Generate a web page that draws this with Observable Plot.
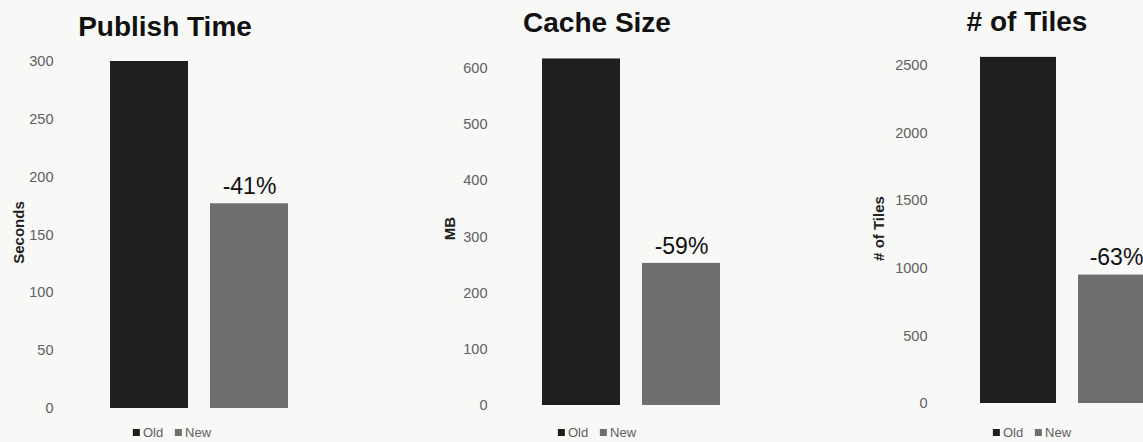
<!DOCTYPE html>
<html>
<head>
<meta charset="utf-8">
<script src="https://cdn.jsdelivr.net/npm/d3@7"></script>
<script src="https://cdn.jsdelivr.net/npm/@observablehq/plot@0.6"></script>
<style>
  html, body { margin: 0; padding: 0; background: #f8f8f7; overflow: hidden; }
  #wrap { position: relative; width: 1143px; height: 442px; overflow: hidden; font-family: "Liberation Sans", Arial, sans-serif; }
  .panel { position: absolute; top: 0; height: 442px; }
  .title { position: absolute; font-weight: bold; font-size: 28px; line-height: 28px; color: #111; white-space: nowrap; transform: translateX(-50%); }
  .legend { position: absolute; top: 425px; font-size: 13px; line-height: 16px; color: #606060; white-space: nowrap; transform: translateX(-50%); }
  .sw { display: inline-block; width: 7px; height: 7px; margin-right: 3px; vertical-align: 1px; }
  svg { overflow: visible; }
</style>
</head>
<body>
<div id="wrap"></div>
<script>
const categories = ["Old", "New"];
const publishTime = [300, 177];
const cacheSize = [617, 253];
const tileCount = [2560, 950];
const changeLabels = ["-41%", "-59%", "-63%"];
const titles = ["Publish Time", "Cache Size", "# of Tiles"];
const yLabels = ["Seconds", "MB", "# of Tiles"];
const yTicks = [
  [0, 50, 100, 150, 200, 250, 300],
  [0, 100, 200, 300, 400, 500, 600],
  [0, 500, 1000, 1500, 2000, 2500]
];
const colors = ["#1e201f", "#6c6f6d"];

const panels = [
  {left: 0, width: 380, values: publishTime, yDomain: [0, 300], yRange: [408, 61], xRange: [110, 288], marginLeft: 60, marginTop: 22, labelX: 13, titleX: 165, titleY: 13, legendX: 172},
  {left: 380, width: 380, values: cacheSize, yDomain: [0, 600], yRange: [405, 68], xRange: [162, 340], marginLeft: 114, marginTop: 14, labelX: 64, titleX: 217, titleY: 9, legendX: 217},
  {left: 760, width: 383, values: tileCount, yDomain: [0, 2500], yRange: [403, 65], xRange: [220, 395], marginLeft: 174, marginTop: 14, labelX: 113, titleX: 267, titleY: 8, legendX: 272}
];

const wrap = document.getElementById("wrap");

panels.forEach((p, i) => {
  const data = categories.map((c, j) => ({cat: c, value: p.values[j]}));
  const div = document.createElement("div");
  div.className = "panel";
  div.style.left = p.left + "px";
  div.style.width = p.width + "px";

  const chart = Plot.plot({
    width: p.width,
    height: 442,
    marginLeft: p.marginLeft,
    marginTop: p.marginTop,
    marginBottom: 0,
    marginRight: 0,
    style: {background: "transparent", fontFamily: "Liberation Sans, Arial, sans-serif", overflow: "visible"},
    x: {domain: categories, range: p.xRange, paddingInner: 0.22, paddingOuter: 0, axis: null},
    y: {domain: p.yDomain, range: p.yRange},
    color: {domain: categories, range: colors},
    marks: [
      Plot.axisY({
        ticks: yTicks[i],
        tickFormat: d => String(d),
        tickSize: 0,
        tickPadding: 7,
        fontSize: 14.5,
        color: "#606060",
        label: null
      }),
      Plot.axisY({
        ticks: [],
        tickSize: 0,
        fontSize: 15,
        fontWeight: "bold",
        color: "#222",
        label: yLabels[i],
        labelAnchor: "center",
        labelArrow: "none",
        labelOffset: p.marginLeft - p.labelX
      }),
      Plot.barY(data, {x: "cat", y: "value", fill: "cat"}),
      Plot.text(data.filter(d => d.cat === "New"), {
        x: "cat", y: "value", text: () => changeLabels[i],
        dy: -17, fontSize: 23, fill: "#111", lineAnchor: "middle"
      })
    ]
  });
  chart.style.position = "absolute";
  chart.style.left = "0px";
  chart.style.top = "0px";
  div.appendChild(chart);

  const t = document.createElement("div");
  t.className = "title";
  t.textContent = titles[i];
  t.style.left = p.titleX + "px";
  t.style.top = p.titleY + "px";
  div.appendChild(t);

  const lg = document.createElement("div");
  lg.className = "legend";
  lg.style.left = p.legendX + "px";
  lg.innerHTML = categories.map((c, j) =>
    `<span class="sw" style="background:${colors[j]}"></span>${c}`).join('<span style="display:inline-block;width:12px"></span>');
  div.appendChild(lg);

  wrap.appendChild(div);
});
</script>
</body>
</html>
